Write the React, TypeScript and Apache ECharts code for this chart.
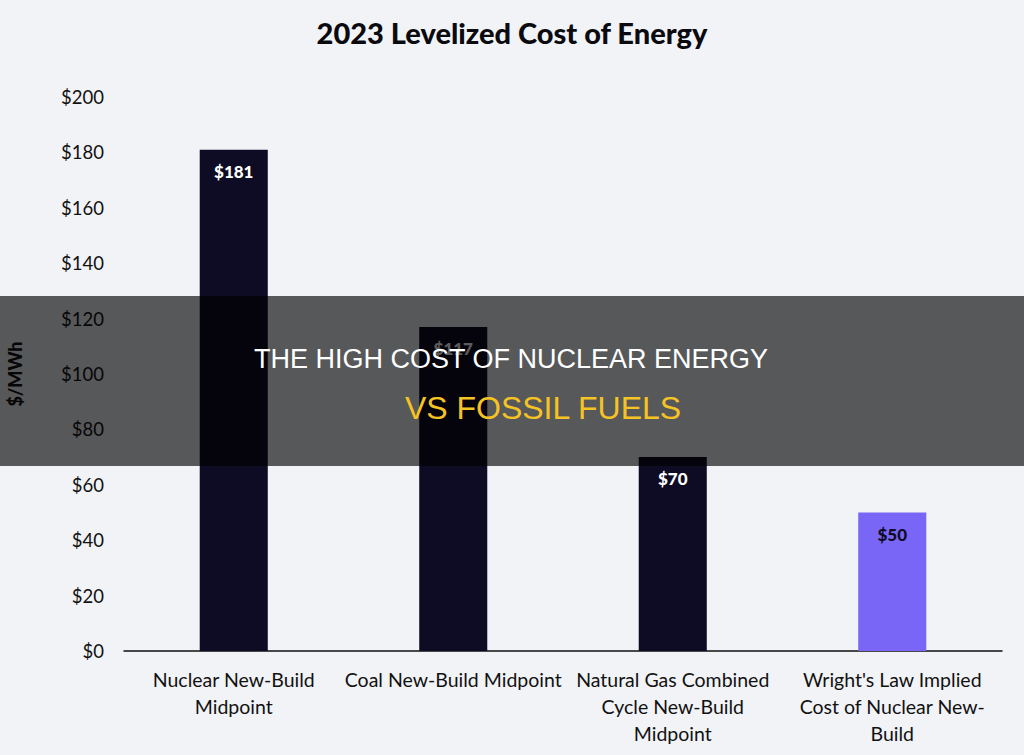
import React, { useEffect, useRef } from "react";
import * as echarts from "echarts";

// Levelized cost of energy, $/MWh
const categories = [
  "Nuclear New-Build\nMidpoint",
  "Coal New-Build Midpoint",
  "Natural Gas Combined\nCycle New-Build\nMidpoint",
  "Wright's Law Implied\nCost of Nuclear New-\nBuild",
];
const costs = [181, 117, 70, 50];
const barColors = ["#0e0c24", "#0e0c24", "#0e0c24", "#7a66f6"];
const labelColors = ["#ffffff", "#ffffff", "#ffffff", "#0e0c24"];
const yMin = 0;
const yMax = 200;
const yStep = 20;

const chartTitle = "2023 Levelized Cost of Energy";
const yAxisName = "$/MWh";
const bannerLine1 = "THE HIGH COST OF NUCLEAR ENERGY";
const bannerLine2 = "VS FOSSIL FUELS";

const FONT = "Lato, 'Open Sans', sans-serif";
const BANNER_FONT = "'Liberation Sans', Arial, sans-serif";

export default function App() {
  const ref = useRef<HTMLDivElement>(null);

  useEffect(() => {
    if (!ref.current) return;
    const chart = echarts.init(ref.current, undefined, { renderer: "svg" });
    chart.setOption({
      animation: false,
      backgroundColor: "#f2f3f7",
      textStyle: { fontFamily: FONT },
      title: {
        text: chartTitle,
        left: "center",
        top: 13,
        textStyle: { fontFamily: FONT, fontSize: 29, fontWeight: 900, color: "#0a0a0f" },
      },
      grid: {
        left: 124,
        right: 22,
        top: 97,
        bottom: 104,
        containLabel: false,
        outerBoundsMode: "none",
      },
      xAxis: {
        type: "category",
        data: categories,
        axisLine: { lineStyle: { color: "#111111", width: 1.5 } },
        axisTick: { show: false },
        axisLabel: {
          interval: 0,
          color: "#111111",
          fontSize: 19.5,
          lineHeight: 27,
          margin: 15,
          fontFamily: FONT,
        },
      },
      yAxis: {
        type: "value",
        min: yMin,
        max: yMax,
        interval: yStep,
        name: yAxisName,
        nameLocation: "middle",
        nameGap: 100,
        nameTextStyle: { fontSize: 18, fontWeight: 900, color: "#111111", fontFamily: FONT },
        axisLine: { show: false },
        axisTick: { show: false },
        splitLine: { show: false },
        axisLabel: {
          color: "#111111",
          fontSize: 18.5,
          margin: 20,
          fontFamily: FONT,
          formatter: (v: number) => "$" + v,
        },
      },
      series: [
        {
          type: "bar",
          barWidth: "31%",
          data: costs.map((v, i) => ({
            value: v,
            itemStyle: { color: barColors[i] },
            label: { color: labelColors[i] },
          })),
          label: {
            show: true,
            position: "insideTop",
            distance: 13,
            fontSize: 17,
            fontWeight: 900,
            fontFamily: FONT,
            formatter: (p: any) => "$" + p.value,
          },
        },
      ],
      graphic: [
        {
          type: "rect",
          z: 100,
          shape: { x: 0, y: 296, width: 1024, height: 170 },
          style: { fill: "rgba(0,0,0,0.64)" },
        },
        {
          type: "text",
          z: 101,
          x: 511,
          y: 359,
          style: {
            text: bannerLine1,
            fill: "#ffffff",
            font: `27px ${BANNER_FONT}`,
            textAlign: "center",
            textVerticalAlign: "middle",
          },
        },
        {
          type: "text",
          z: 101,
          x: 543,
          y: 408,
          style: {
            text: bannerLine2,
            fill: "#f6c324",
            font: `32px ${BANNER_FONT}`,
            textAlign: "center",
            textVerticalAlign: "middle",
          },
        },
      ],
    });
    return () => chart.dispose();
  }, []);

  return (
    <div
      ref={ref}
      style={{ position: "fixed", left: 0, top: 0, width: 1024, height: 755 }}
    />
  );
}
